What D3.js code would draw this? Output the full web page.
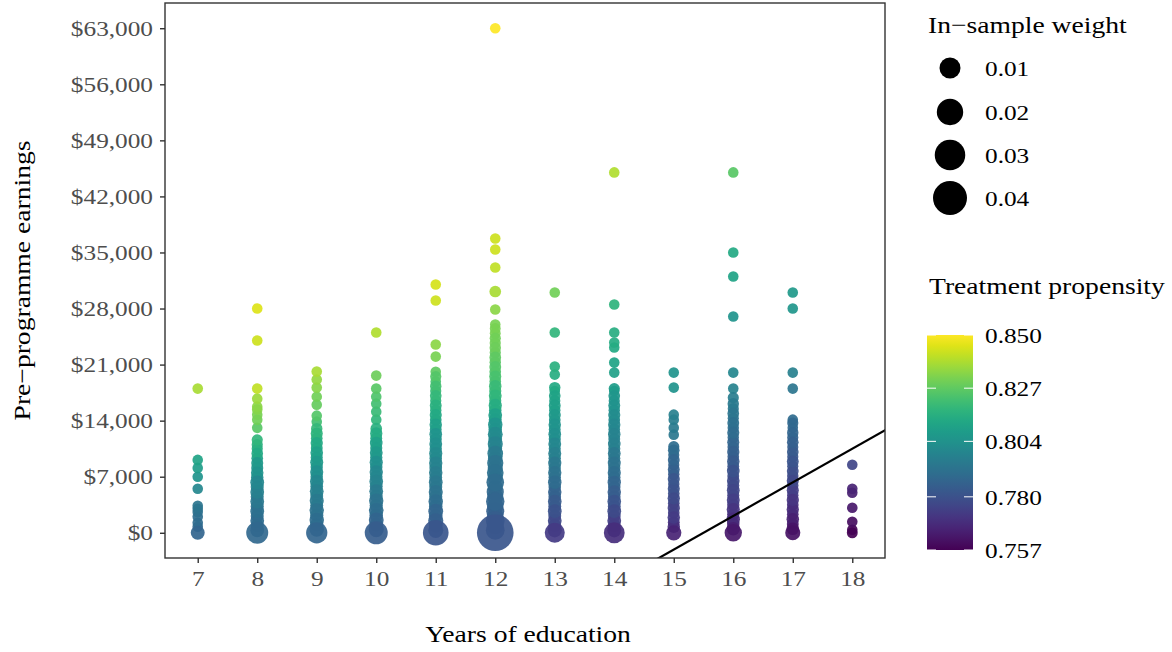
<!DOCTYPE html>
<html>
<head>
<meta charset="utf-8">
<script src="https://cdn.jsdelivr.net/npm/d3@7"></script>
<style>
  body { margin: 0; background: #fff; }
  text { font-family: "Liberation Serif", "Times New Roman", serif; }
</style>
</head>
<body>
<svg id="chart" width="1172" height="652"></svg>
<script>
// ---- data -------------------------------------------------------------
const educationYears = [7, 8, 9, 10, 11, 12, 13, 14, 15, 16, 17, 18];
const earningsTicks = [0, 7000, 14000, 21000, 28000, 35000, 42000, 49000, 56000, 63000];
const weightBreaks = [0.01, 0.02, 0.03, 0.04];
const propensityTicks = [0.757, 0.780, 0.804, 0.827, 0.850];
const propensityRange = [0.757, 0.850];
// decision boundary: [education, earnings]
const boundary = [[14, -6300], [19, 14700]];
const baseWeight = 0.0004;

// each point: [pre-programme earnings, treatment propensity, in-sample weight]
const edu7 = [[0,.787,.0021],[750,.788],[1250,.789],[2000,.790],[2600,.791],[3000,.792],[3375,.793],[5500,.800],[7000,.805],[8100,.808],[9100,.811],[18000,.838]];
const edu8 = [[0,.788,.0116],[300,.788,.002],[900,.789,.0015],[1500,.789,.002],[2100,.790,.0015],[2700,.791,.002],[3300,.792,.0015],[3900,.794,.002],[4500,.795,.0015],[5100,.797,.002],[5700,.799,.0015],[6300,.800,.002],[6900,.802,.0012],[7500,.804,.0012],[8100,.805,.001],[8700,.807,.001],[9300,.810,.0008],[9900,.813,.0008],[10500,.815,.0006],[11000,.816,.0006],[11600,.818,.0006],[13100,.826],[14100,.830],[14750,.831],[15400,.833],[15750,.834],[16750,.836],[18000,.841],[24000,.843],[28000,.845]];
const edu9 = [[0,.787,.0104],[400,.788,.0025],[1000,.789,.0018],[1600,.790,.0025],[2200,.791,.0016],[2800,.792,.0024],[3400,.793,.0015],[4000,.795,.0022],[4600,.796,.0014],[5200,.797,.002],[5800,.799,.0013],[6400,.800,.0018],[7000,.802,.0012],[7600,.803,.0016],[8200,.805,.0011],[8800,.807,.0015],[9400,.808,.001],[10000,.810,.0013],[10600,.812,.0009],[11200,.813,.0011],[11800,.815,.0008],[12400,.817,.001],[13000,.819,.0007],[13875,.822],[14625,.825],[16000,.828],[17000,.830],[18125,.833],[19125,.835],[20125,.838]];
const edu10 = [[0,.784,.0133],[400,.785,.003],[1000,.786,.002],[1600,.787,.0028],[2200,.788,.0018],[2800,.790,.0026],[3400,.791,.0016],[4000,.792,.0024],[4600,.793,.0015],[5200,.795,.002],[5800,.796,.0014],[6400,.798,.0019],[7000,.799,.0013],[7600,.800,.0017],[8200,.802,.0012],[8800,.803,.0016],[9400,.805,.0011],[10000,.807,.0014],[10600,.808,.001],[11200,.810,.0013],[11800,.812,.0009],[12400,.814,.0011],[13000,.816,.0008],[14125,.818],[15125,.820],[16125,.822],[17000,.824],[18000,.826],[19625,.829],[25000,.839]];
const edu11 = [[0,.782,.0185],[300,.782,.003],[900,.783,.002],[1500,.785,.003],[2100,.786,.002],[2700,.787,.0028],[3300,.789,.0018],[3900,.790,.0025],[4500,.791,.0016],[5100,.792,.0022],[5700,.793,.0015],[6300,.794,.002],[6900,.795,.0014],[7500,.796,.0018],[8100,.797,.0013],[8700,.798,.0017],[9300,.800,.0012],[9900,.801,.0016],[10500,.802,.0011],[11100,.803,.0014],[11700,.804,.001],[12300,.805,.0013],[12900,.807,.0009],[13500,.809,.0012],[14100,.811,.0008],[14700,.813,.001],[15300,.815,.0007],[15900,.816,.0009],[16500,.817,.0006],[17100,.819,.0008],[17700,.820,.0006],[18300,.822,.0007],[18900,.823],[19500,.825,.0006],[20100,.827],[22000,.831],[23500,.834],[29000,.843],[31000,.844]];
const edu12 = [[0,.782,.0486],[300,.782,.007],[900,.783,.005],[1500,.784,.007],[2100,.784,.004],[2700,.785,.006],[3300,.786,.004],[3900,.787,.0065],[4500,.787,.004],[5100,.788,.005],[5700,.789,.003],[6300,.789,.0055],[6900,.790,.003],[7500,.791,.0045],[8100,.791,.003],[8700,.792,.004],[9300,.794,.0025],[9900,.795,.0035],[10500,.796,.002],[11100,.798,.003],[11700,.800,.002],[12300,.801,.0028],[12900,.803,.0018],[13500,.805,.0025],[14100,.806,.0015],[14700,.809,.002],[15300,.812,.0012],[15900,.815,.0016],[16500,.816,.001],[17100,.818,.0014],[17700,.819,.001],[18300,.820,.0012],[18900,.822,.0008],[19500,.823,.001],[20100,.824,.0008],[20700,.825,.0009],[21300,.826,.0007],[21900,.827,.0008],[22500,.828,.0006],[23100,.829,.0007],[23700,.830,.0006],[24300,.830,.0006],[24900,.831,.0005],[25500,.831,.0005],[26000,.831],[27875,.834],[30125,.838,.0008],[33125,.841],[35375,.843],[36750,.843],[63000,.850]];
const edu13 = [[0,.773,.0085],[300,.774,.0022],[900,.775,.0015],[1500,.777,.002],[2100,.779,.0014],[2700,.780,.002],[3300,.782,.0014],[3900,.783,.0019],[4500,.785,.0013],[5100,.786,.0018],[5700,.788,.0012],[6300,.789,.0018],[6900,.790,.0012],[7500,.792,.0017],[8100,.793,.0011],[8700,.794,.0016],[9300,.796,.0011],[9900,.797,.0015],[10500,.798,.001],[11100,.800,.0014],[11700,.801,.001],[12300,.803,.0013],[12900,.804,.0009],[13500,.805,.0012],[14100,.806,.0008],[14700,.807,.001],[15300,.808,.0007],[15900,.809,.0009],[16500,.810,.0006],[17100,.811,.0008],[17700,.812],[18125,.813,.0007],[19750,.815],[20750,.816],[25000,.818],[30000,.830]];
const edu14 = [[0,.769,.0097],[300,.770,.0022],[900,.772,.0015],[1500,.774,.002],[2100,.776,.0014],[2700,.778,.002],[3300,.780,.0014],[3900,.781,.0019],[4500,.783,.0013],[5100,.784,.0018],[5700,.786,.0012],[6300,.787,.0017],[6900,.788,.0012],[7500,.790,.0016],[8100,.791,.0011],[8700,.792,.0015],[9300,.793,.001],[9900,.794,.0014],[10500,.796,.001],[11100,.797,.0013],[11700,.797,.0009],[12300,.798,.0012],[12900,.799,.0008],[13500,.800,.0011],[14100,.801,.0008],[14700,.802,.001],[15300,.803,.0007],[15900,.804,.0009],[16500,.805,.0006],[17100,.806,.0008],[17700,.807],[18000,.808,.0006],[20000,.810],[21250,.811],[23125,.813],[23750,.814],[25000,.815],[28500,.817],[45000,.839]];
const edu15 = [[0,.766,.0031],[750,.769,.0012],[1300,.770,.0009],[1900,.773,.0012],[2500,.774,.0008],[3100,.775,.0011],[3700,.776,.0008],[4300,.778,.0011],[4900,.779,.0008],[5500,.780,.001],[6100,.781,.0007],[6700,.782,.001],[7300,.783,.0007],[7900,.785,.0009],[8500,.786,.0006],[9100,.787,.0009],[9700,.788,.0006],[10300,.789,.0008],[10750,.790,.0006],[12250,.794],[13125,.795],[14125,.796],[14750,.797],[18125,.804],[20000,.805]];
const edu16 = [[0,.763,.0052],[500,.765,.0018],[1100,.766,.0012],[1700,.768,.0017],[2300,.769,.0011],[2900,.771,.0016],[3500,.772,.0011],[4100,.774,.0015],[4700,.775,.001],[5300,.776,.0014],[5900,.777,.001],[6500,.778,.0013],[7100,.779,.0009],[7700,.780,.0013],[8300,.782,.0009],[8900,.783,.0012],[9500,.784,.0008],[10100,.785,.0011],[10700,.786,.0008],[11300,.787,.001],[11900,.788,.0007],[12500,.789,.001],[13100,.790,.0007],[13700,.791,.0009],[14300,.792,.0006],[14900,.793,.0008],[15500,.794,.0006],[16100,.795,.0007],[16875,.796,.0006],[18000,.798],[20000,.800],[27000,.805],[32000,.811],[35000,.813],[45000,.826]];
const edu17 = [[0,.761,.003],[500,.762,.0013],[1100,.764,.0009],[1700,.765,.0012],[2300,.767,.0008],[2900,.768,.0011],[3500,.770,.0008],[4100,.771,.0011],[4700,.773,.0007],[5300,.774,.001],[5900,.776,.0007],[6500,.777,.001],[7100,.778,.0007],[7700,.779,.0009],[8300,.780,.0006],[8900,.781,.0009],[9500,.782,.0006],[10100,.783,.0008],[10700,.784,.0006],[11300,.785,.0008],[11900,.786,.0006],[12500,.787,.0007],[13100,.788],[13700,.788,.0006],[14125,.789],[18000,.793],[20000,.797],[28000,.806],[30000,.807]];
const edu18 = [[0,.757,.0005],[375,.758],[1375,.760],[3125,.763],[5000,.765],[5500,.766],[8500,.776]];

const pointsByEducation = [edu7, edu8, edu9, edu10, edu11, edu12, edu13, edu14, edu15, edu16, edu17, edu18];

// ---- layout -----------------------------------------------------------
const panel = { left: 165, right: 885, top: 3, bottom: 558 };
const labelSize = 22, titleSize = 24, stretch = 1.15;
const tickColor = "#333333", labelColor = "#4d4d4d";

const svg = d3.select("#chart");

const x = d3.scaleLinear().domain([6.45, 18.55]).range([panel.left, panel.right]);
const y = d3.scaleLinear().domain([-3150, 66150]).range([panel.bottom, panel.top]);
const r = d3.scaleSqrt().domain([0, 0.04]).range([4, 17]);
const color = d3.scaleSequential(d3.interpolateViridis).domain(propensityRange);

const points = [];
educationYears.forEach((edu, i) => {
  pointsByEducation[i].forEach(([earn, prop, w]) => {
    points.push({ edu, earn, prop, w: w === undefined ? baseWeight : w });
  });
});
points.sort((a, b) => a.w - b.w);

svg.append("defs").append("clipPath").attr("id", "panel-clip")
  .append("rect")
  .attr("x", panel.left).attr("y", panel.top)
  .attr("width", panel.right - panel.left).attr("height", panel.bottom - panel.top);

// points
svg.append("g")
  .selectAll("circle")
  .data(points)
  .join("circle")
  .attr("cx", d => x(d.edu))
  .attr("cy", d => y(d.earn))
  .attr("r", d => r(d.w))
  .attr("fill", d => color(d.prop))
  .attr("fill-opacity", 0.92);

// decision boundary
svg.append("path")
  .datum(boundary)
  .attr("clip-path", "url(#panel-clip)")
  .attr("fill", "none")
  .attr("stroke", "#000")
  .attr("stroke-width", 2.2)
  .attr("d", d3.line().x(d => x(d[0])).y(d => y(d[1])));

// panel border
svg.append("rect")
  .attr("x", panel.left).attr("y", panel.top)
  .attr("width", panel.right - panel.left).attr("height", panel.bottom - panel.top)
  .attr("fill", "none").attr("stroke", tickColor).attr("stroke-width", 1.4);

// axes
const xAxis = svg.append("g")
  .attr("transform", `translate(0,${panel.bottom})`)
  .call(d3.axisBottom(x).tickValues(educationYears).tickFormat(d3.format("d")).tickSize(5).tickPadding(7));
const yAxis = svg.append("g")
  .attr("transform", `translate(${panel.left},0)`)
  .call(d3.axisLeft(y).tickValues(earningsTicks).tickFormat(d => "$" + d3.format(",")(d)).tickSize(5).tickPadding(7));

[xAxis, yAxis].forEach(g => {
  g.select(".domain").remove();
  g.selectAll(".tick line").attr("stroke", tickColor).attr("stroke-width", 1.4);
  g.selectAll(".tick text")
    .attr("fill", labelColor)
    .style("font-size", labelSize + "px")
    .style("font-family", '"Liberation Serif", serif');
});
yAxis.selectAll(".tick text").attr("x", -12 / stretch).attr("transform", `scale(${stretch},1)`);
xAxis.selectAll(".tick text").attr("transform", `scale(${stretch},1)`);

function label(px, py, str, opts = {}) {
  return svg.append("text")
    .attr("transform", `translate(${px},${py}) ${opts.rotate ? "rotate(" + opts.rotate + ")" : ""} scale(${stretch},1)`)
    .attr("text-anchor", opts.anchor || "start")
    .attr("fill", opts.fill || "#000")
    .style("font-size", (opts.size || labelSize) + "px")
    .text(str);
}

// axis titles
label((panel.left + panel.right) / 2 + 3, 642, "Years of education", { anchor: "middle", size: titleSize });
label(30, (panel.top + panel.bottom) / 2, "Pre\u2212programme earnings", { anchor: "middle", size: titleSize, rotate: -90 });

// size legend
label(928, 33, "In\u2212sample weight", { size: titleSize });
const sizeRows = [68, 112, 155, 198];
weightBreaks.forEach((w, i) => {
  svg.append("circle").attr("cx", 950).attr("cy", sizeRows[i]).attr("r", r(w)).attr("fill", "#000");
  label(985, sizeRows[i] + 8, d3.format(".2f")(w));
});

// colour legend
label(929, 294, "Treatment propensity", { size: titleSize });
const bar = { x: 927, y: 335, w: 46, h: 215 };
const grad = svg.select("defs").append("linearGradient")
  .attr("id", "viridis-bar").attr("x1", 0).attr("y1", 1).attr("x2", 0).attr("y2", 0);
d3.range(0, 1.0001, 0.05).forEach(t => {
  grad.append("stop").attr("offset", t).attr("stop-color", d3.interpolateViridis(t));
});
svg.append("rect")
  .attr("x", bar.x).attr("y", bar.y).attr("width", bar.w).attr("height", bar.h)
  .attr("fill", "url(#viridis-bar)");
const barScale = d3.scaleLinear().domain(propensityRange).range([bar.y + bar.h, bar.y]);
propensityTicks.forEach(v => {
  const ty = barScale(v);
  svg.append("line").attr("x1", bar.x).attr("x2", bar.x + 9).attr("y1", ty).attr("y2", ty)
    .attr("stroke", "#fff").attr("stroke-width", 1);
  svg.append("line").attr("x1", bar.x + bar.w - 9).attr("x2", bar.x + bar.w).attr("y1", ty).attr("y2", ty)
    .attr("stroke", "#fff").attr("stroke-width", 1);
  label(985, ty + 8, d3.format(".3f")(v));
});
</script>
</body>
</html>
